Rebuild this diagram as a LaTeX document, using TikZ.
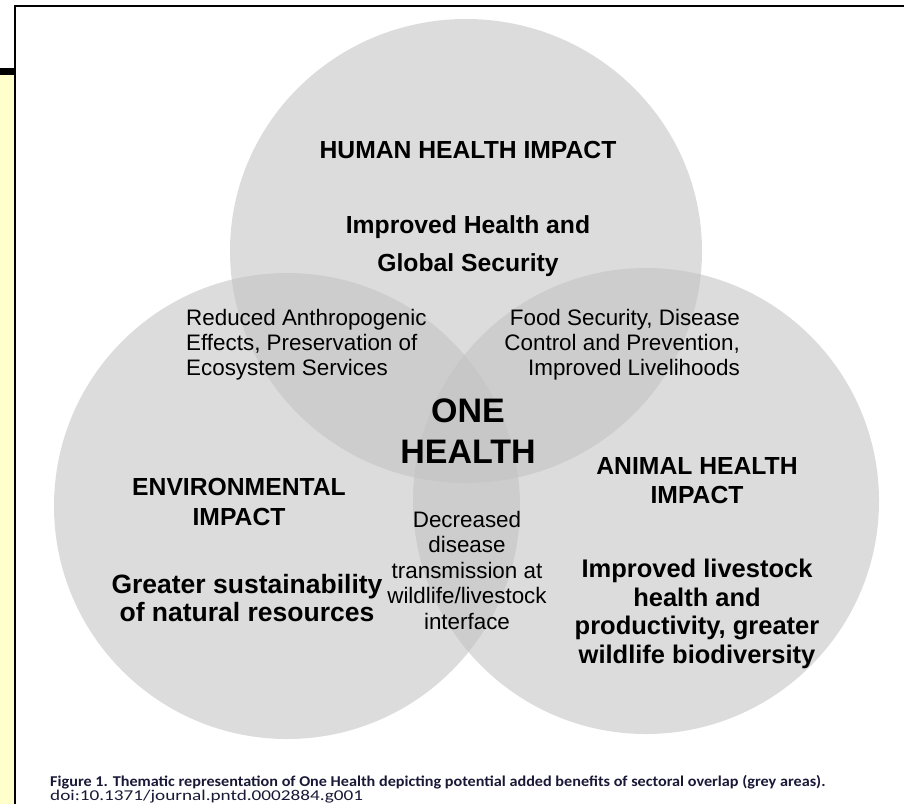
\documentclass[tikz,border=0pt]{standalone}
\usepackage{fontspec}
\setmainfont{Liberation Sans}
\newfontfamily\capfont{Carlito}
\definecolor{circgray}{RGB}{195,195,195}
\definecolor{pageyellow}{RGB}{255,255,204}
\definecolor{capblue}{RGB}{25,25,55}
\begin{document}
\begin{tikzpicture}[x=1pt,y=-1pt,
  circ/.style={fill=circgray, fill opacity=0.57},
  headtxt/.style={font=\fontsize{24.7}{30}\selectfont\bfseries, align=center, inner sep=0pt},
  bigtxt/.style={font=\fontsize{25.5}{28.7}\selectfont\bfseries, align=center, inner sep=0pt},
  bodytxt/.style={font=\fontsize{22.4}{25}\selectfont, inner sep=0pt},
  captxt/.style={font=\capfont\fontsize{15}{16}\selectfont, text=capblue, inner sep=0pt, anchor=base west}
]
\useasboundingbox (0,0) rectangle (904,804);
\fill[white] (0,0) rectangle (904,804);
% page frame
\fill[pageyellow] (0,75) rectangle (14,804);
\fill[black] (0,68) rectangle (15,75);
\draw[line width=2pt] (15,804) -- (15,6) -- (904,6);
% circles
\fill[circ] (466,251) ellipse [x radius=236, y radius=232];
\fill[circ] (287,506) circle (233);
\fill[circ] (646,501) circle (233);
% texts
\node[headtxt] (hhi) at (468,150) {HUMAN HEALTH IMPACT};
\node[headtxt, font=\fontsize{24.7}{38}\selectfont\bfseries] (ihg) at (468,246) {Improved Health and\\Global Security};
\node[bodytxt, align=left, anchor=west] (rae) at (186,345) {Reduced Anthropogenic\\Effects, Preservation of\\Ecosystem Services};
\node[bodytxt, align=right, anchor=east] (fsd) at (740,345) {Food Security, Disease\\Control and Prevention,\\Improved Livelihoods};
\node[headtxt, font=\fontsize{34}{41}\selectfont\bfseries] (one) at (468,431) {ONE\\HEALTH};
\node[headtxt] (env) at (239,502) {ENVIRONMENTAL\\IMPACT};
\node[headtxt, font=\fontsize{24.7}{29}\selectfont\bfseries] (ani) at (697,481) {ANIMAL HEALTH\\IMPACT};
\node[bigtxt, font=\fontsize{26.5}{28}\selectfont\bfseries] (gsn) at (247,598) {Greater sustainability\\of natural resources};
\node[bodytxt, align=center, font=\fontsize{22.4}{25.5}\selectfont] (ddt) at (467,570) {Decreased\\disease\\transmission at\\wildlife/livestock\\interface};
\node[bigtxt] (ilh) at (697,614) {Improved livestock\\health and\\productivity, greater\\wildlife biodiversity};
% caption
\node[captxt, font=\capfont\bfseries\fontsize{15}{16}\selectfont] (cap) at (50,786) {\scalebox{1.08}[1]{Figure 1. Thematic representation of One Health depicting potential added benefits of sectoral overlap (grey areas).}};
\node[captxt] (doi) at (50,800) {\scalebox{1.28}[1]{doi:10.1371/journal.pntd.0002884.g001}};
\end{tikzpicture}
\end{document}
